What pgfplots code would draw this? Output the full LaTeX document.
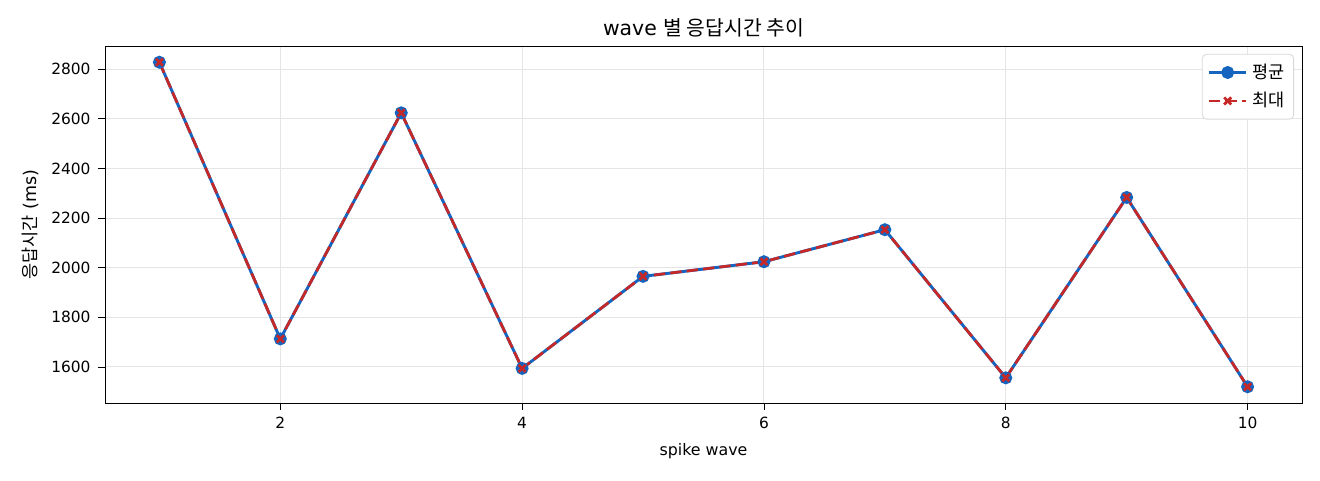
\documentclass[border=0pt]{standalone}
\usepackage{fontspec}
\setmainfont{DejaVu Sans}
\newfontfamily\kr{Noto Sans CJK KR}
\usepackage{pgfplots}
\pgfplotsset{compat=1.18}

\definecolor{avgblue}{HTML}{1565C0}
\definecolor{maxred}{HTML}{C62828}

\begin{document}
\begin{tikzpicture}
\useasboundingbox (0,0) rectangle (633.6pt,230.4pt);
\begin{axis}[
    at={(50.4pt,36.96pt)},
    anchor=south west,
    scale only axis,
    width=574.56pt,
    height=171.36pt,
    xmin=0.55, xmax=10.45,
    ymin=1454.6, ymax=2893.4,
    xtick={2,4,6,8,10},
    ytick={1600,1800,2000,2200,2400,2600,2800},
    /pgf/number format/assume math mode=true,
    /pgf/number format/1000 sep={},
    tick label style={font=\fontsize{7.4}{9}\selectfont},
    tick align=outside,
    major tick length=3.4pt,
    tick style={black, line width=0.4pt},
    xtick pos=bottom, ytick pos=left,
    axis line style={black, line width=0.45pt},
    grid=major,
    major grid style={gray!20, line width=0.45pt},
    title={wave {\kr 별 응답시간 추이}},
    title style={font=\fontsize{9.8}{11}\selectfont, yshift=-5.5pt},
    xlabel={spike wave},
    ylabel={{\kr 응답시간} (ms)},
    xlabel style={font=\fontsize{7.6}{9}\selectfont},
    ylabel style={font=\fontsize{8.4}{10}\selectfont},
    ylabel shift=-1pt,
    legend style={at={(1,1)}, anchor=north east, xshift=-3.8pt, yshift=-3.8pt,
        draw=gray!30, rounded corners=2pt, font=\fontsize{8.4}{10}\kr,
        row sep=1.2pt, inner sep=2.5pt},
    legend cell align=left,
    legend image code/.code={
        \draw[mark repeat=2, mark phase=2] plot coordinates {(0pt,0pt) (9pt,0pt) (18pt,0pt)};
    },
]
\addplot[color=avgblue, line width=1.4pt, mark=*, mark size=2.4pt, mark options={solid, fill=avgblue}]
coordinates {
    (1,2828) (2,1713) (3,2624) (4,1594) (5,1965)
    (6,2024) (7,2153) (8,1556) (9,2283) (10,1520)
};
\addlegendentry{평균}
\addplot[color=maxred, line width=1.3pt, dash pattern=on 5.5pt off 2.4pt, mark=x, mark size=2.4pt, mark options={solid}]
coordinates {
    (1,2828) (2,1713) (3,2624) (4,1594) (5,1965)
    (6,2024) (7,2153) (8,1556) (9,2283) (10,1520)
};
\addlegendentry{최대}
\end{axis}
\end{tikzpicture}
\end{document}
